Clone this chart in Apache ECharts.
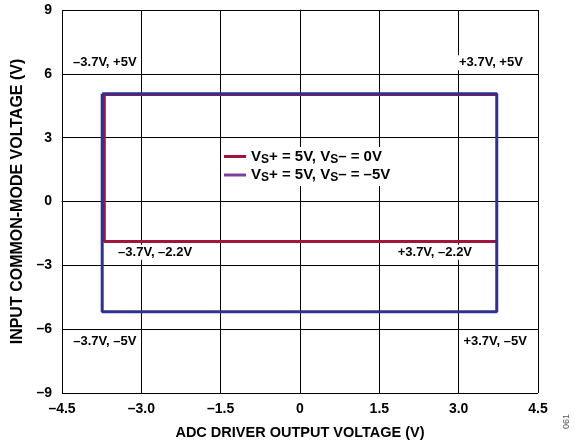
<!DOCTYPE html>
<html><head><meta charset="utf-8">
<script src="https://cdn.jsdelivr.net/npm/echarts@6/dist/echarts.min.js"></script>
<style>html,body{margin:0;padding:0;background:#fff}#c{width:575px;height:446px}</style>
</head><body><div id="c"></div>
<script>
const xTicks = [-4.5, -3.0, -1.5, 0, 1.5, 3.0, 4.5];
const yTicks = [-9, -6, -3, 0, 3, 6, 9];
const seriesNames = ['VS+ = 5V, VS– = 0V', 'VS+ = 5V, VS– = –5V'];
const redX = [3.7, -3.7, -3.7, 3.72];
const redY = [5.03, 5.03, -1.88, -1.88];
const blueX = [-3.74, 3.72, 3.72, -3.74, -3.74];
const blueY = [5.06, 5.06, -5.18, -5.18, 5.06];
const annText = ['–3.7V, +5V', '+3.7V, +5V', '–3.7V, –2.2V', '+3.7V, –2.2V', '–3.7V, –5V', '+3.7V, –5V'];
const annX = [-3.69, 3.61, -2.74, 2.55, -3.69, 3.69];
const annY = [6.52, 6.52, -2.39, -2.39, -6.56, -6.56];

const FONT = '"Liberation Sans", Arial, sans-serif';

const chart = echarts.init(document.getElementById('c'));
chart.setOption({
  animation: false,
  backgroundColor: '#fff',
  grid: { left: 62, right: 37, top: 10, bottom: 53, containLabel: false },
  xAxis: {
    type: 'value', min: -4.5, max: 4.5, interval: 1.5,
    name: 'ADC DRIVER OUTPUT VOLTAGE (V)', nameLocation: 'middle', nameGap: 32,
    nameTextStyle: { fontFamily: FONT, fontWeight: 'bold', fontSize: 14.5, color: '#000' },
    axisLine: { show: true, lineStyle: { color: '#000', width: 1 } },
    axisTick: { show: false },
    splitLine: { show: true, lineStyle: { color: '#000', width: 1 } },
    axisLabel: { fontFamily: FONT, fontWeight: 'bold', fontSize: 14, color: '#000', margin: 9,
      formatter: v => v === 0 ? '0' : v.toFixed(1).replace('-', '–') }
  },
  yAxis: {
    type: 'value', min: -9, max: 9, interval: 3,
    name: 'INPUT COMMON-MODE VOLTAGE (V)', nameLocation: 'middle', nameGap: 36,
    nameTextStyle: { fontFamily: FONT, fontWeight: 'bold', fontSize: 16, color: '#000' },
    axisLine: { show: true, lineStyle: { color: '#000', width: 1 } },
    axisTick: { show: false },
    splitLine: { show: true, lineStyle: { color: '#000', width: 1 } },
    axisLabel: { fontFamily: FONT, fontWeight: 'bold', fontSize: 14, color: '#000', margin: 10,
      formatter: v => String(v).replace('-', '–') }
  },
  legend: {
    left: 222, top: 147, orient: 'vertical', itemGap: 2,
    backgroundColor: '#fff', padding: [2, 4, 2, 2],
    itemWidth: 22, itemHeight: 3, icon: 'rect',
    data: [
      { name: seriesNames[0], itemStyle: { color: '#a3143c' } },
      { name: seriesNames[1], itemStyle: { color: '#7f3f98' } }
    ],
    formatter: n => {
      const p = n.split('VS');
      return '{t|V}{s|S}{t|' + p[1] + 'V}{s|S}{t|' + p[2] + '}';
    },
    textStyle: {
      fontFamily: FONT, fontWeight: 'bold', fontSize: 15, color: '#000',
      rich: {
        t: { fontFamily: FONT, fontWeight: 'bold', fontSize: 15, color: '#000' },
        s: { fontFamily: FONT, fontWeight: 'bold', fontSize: 12, color: '#000', verticalAlign: 'bottom', padding: [6, 0, 0, 0] }
      }
    }
  },
  series: [
    {
      name: seriesNames[0], type: 'line', symbol: 'none', z: 2,
      data: redX.map((x, i) => [x, redY[i]]),
      lineStyle: { color: '#a3143c', width: 3 }, itemStyle: { color: '#a3143c' }
    },
    {
      name: seriesNames[1], type: 'line', symbol: 'none', z: 3,
      data: blueX.map((x, i) => [x, blueY[i]]),
      lineStyle: { color: '#2e3192', width: 3 }, itemStyle: { color: '#7f3f98' }
    },
    {
      name: 'ann', type: 'scatter', symbolSize: 1, z: 4, silent: true,
      itemStyle: { color: '#fff', opacity: 1 },
      data: annText.map((t, i) => ({ value: [annX[i], annY[i]], name: t })),
      label: { show: true, position: 'inside', formatter: p => p.name, opacity: 1,
        fontFamily: FONT, fontWeight: 'bold', fontSize: 13, color: '#000',
        textBorderWidth: 0, backgroundColor: '#fff', padding: [1, 1] }
    }
  ],
  graphic: [{
    type: 'text', left: 562, top: 414, rotation: Math.PI / 2,
    style: { text: '061', fontFamily: FONT, fontSize: 9, fill: '#555' }
  }]
});
</script></body></html>
